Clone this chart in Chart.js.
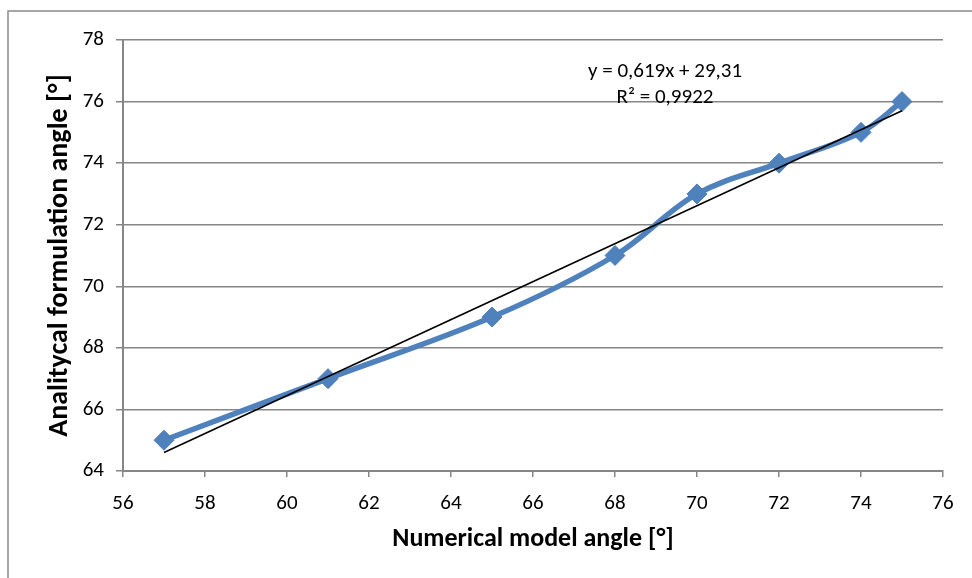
<!DOCTYPE html>
<html>
<head>
<meta charset="utf-8">
<script src="https://cdn.jsdelivr.net/npm/chart.js"></script>
<style>
  html, body {
    margin: 0;
    padding: 0;
    background: #ffffff;
  }
  #wrap {
    width: 972px;
    height: 578px;
  }
</style>
</head>
<body>
<div id="wrap">
  <canvas id="chart" width="972" height="578"></canvas>
</div>
<script>
  // Data
  const numericalAngle = [57, 61, 65, 68, 70, 72, 74, 75];
  const analyticalAngle = [65, 67, 69, 71, 73, 74, 75, 76];
  const trendX = [57, 75];
  const trendY = [64.6, 75.7];
  const trendLabel = ['y = 0,619x + 29,31', 'R\u00b2 = 0,9922'];

  const xTitle = 'Numerical model angle [\u00b0]';
  const yTitle = 'Analitycal formulation angle [\u00b0]';

  const gridColor = '#868686';
  const fontFamily = "Carlito, 'Open Sans', sans-serif";

  // outer frame + regression text
  const extras = {
    id: 'extras',
    beforeDraw(chart) {
      const ctx = chart.ctx;
      ctx.save();
      ctx.fillStyle = '#ffffff';
      ctx.fillRect(0, 0, chart.width, chart.height);
      ctx.strokeStyle = '#8a8a8a';
      ctx.lineWidth = 1.5;
      ctx.strokeRect(8, 11, 1200, 1200);
      ctx.restore();
    },
    afterDraw(chart) {
      const ctx = chart.ctx;
      ctx.save();
      ctx.fillStyle = '#000000';
      ctx.font = '21px ' + fontFamily;
      ctx.textAlign = 'center';
      ctx.textBaseline = 'middle';
      ctx.fillText(trendLabel[0], 665, 72);
      ctx.fillText(trendLabel[1], 665, 98);
      ctx.restore();
    }
  };

  const ctx = document.getElementById('chart').getContext('2d');
  new Chart(ctx, {
    type: 'scatter',
    data: {
      datasets: [{
        label: 'Linear',
        data: trendX.map((x, i) => ({ x: x, y: trendY[i] })),
        showLine: true,
        borderColor: '#000000',
        borderWidth: 1.6,
        pointRadius: 0,
        tension: 0,
        order: 0
      }, {
        label: 'Angle',
        data: numericalAngle.map((x, i) => ({ x: x, y: analyticalAngle[i] })),
        showLine: true,
        borderColor: '#4f81bd',
        backgroundColor: '#4f81bd',
        borderWidth: 5.5,
        tension: 0.35,
        pointStyle: 'rectRot',
        pointRadius: 10,
        pointBorderWidth: 1,
        pointBorderColor: '#4f81bd',
        pointBackgroundColor: '#4f81bd',
        order: 1
      }]
    },
    options: {
      responsive: false,
      animation: false,
      layout: {
        padding: { top: 40, right: 29, left: 0, bottom: 0 }
      },
      plugins: {
        legend: { display: false },
        tooltip: { enabled: false }
      },
      scales: {
        x: {
          type: 'linear',
          min: 56,
          max: 76,
          afterFit: (scale) => { scale.height = 107; },
          ticks: {
            stepSize: 2,
            color: '#000000',
            padding: 14,
            font: { family: fontFamily, size: 21 }
          },
          grid: {
            drawOnChartArea: false,
            drawTicks: true,
            tickLength: 6,
            color: gridColor,
            lineWidth: 1.5
          },
          border: { color: gridColor, width: 2 },
          title: {
            display: true,
            text: xTitle,
            color: '#000000',
            font: { family: fontFamily, size: 26, weight: 'bold' },
            padding: { top: 0, bottom: 23 }
          }
        },
        y: {
          min: 64,
          max: 78,
          afterFit: (scale) => { scale.width = 123; },
          ticks: {
            stepSize: 2,
            color: '#000000',
            padding: 12,
            font: { family: fontFamily, size: 21 }
          },
          grid: {
            drawTicks: true,
            tickLength: 7,
            color: gridColor,
            lineWidth: 1.5
          },
          border: { color: gridColor, width: 2 },
          title: {
            display: true,
            text: yTitle,
            color: '#000000',
            font: { family: fontFamily, size: 28, weight: 'bold' },
            padding: { top: 43, bottom: 0 }
          }
        }
      }
    },
    plugins: [extras]
  });
</script>
</body>
</html>
